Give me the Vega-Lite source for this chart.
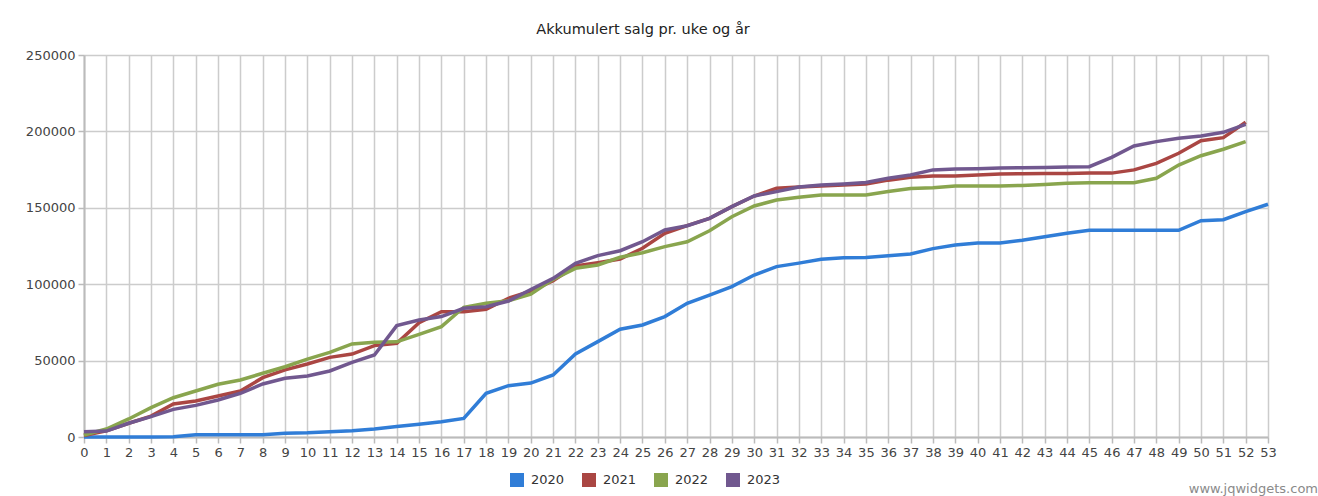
{
  "$schema": "https://vega.github.io/schema/vega-lite/v6.json",
  "width": 1184,
  "height": 382,
  "autosize": {"type": "none"},
  "padding": {"left": 84, "top": 55, "right": 50, "bottom": 59},
  "background": "white",
  "config": {
    "font": "DejaVu Sans",
    "view": {"stroke": null},
    "axis": {
      "labelFont": "DejaVu Sans",
      "labelFontSize": 13,
      "labelColor": "#444444",
      "gridColor": "#cccccc",
      "gridWidth": 1.5,
      "domainColor": "#bbbbbb",
      "domainWidth": 2,
      "tickColor": "#bbbbbb",
      "tickWidth": 1.5,
      "tickSize": 6,
      "title": null
    }
  },
  "title": {
    "text": "Akkumulert salg pr. uke og år",
    "font": "DejaVu Sans",
    "fontSize": 14.5,
    "fontWeight": "normal",
    "color": "#222222",
    "offset": 12,
    "dx": -33
  },
  "layer": [
    {
      "data": {"values": [
        {"uke":0,"år":"2020","salg":0},{"uke":1,"år":"2020","salg":0},{"uke":2,"år":"2020","salg":0},{"uke":3,"år":"2020","salg":0},{"uke":4,"år":"2020","salg":200},{"uke":5,"år":"2020","salg":1500},{"uke":6,"år":"2020","salg":1500},{"uke":7,"år":"2020","salg":1500},{"uke":8,"år":"2020","salg":1500},{"uke":9,"år":"2020","salg":2500},{"uke":10,"år":"2020","salg":2800},{"uke":11,"år":"2020","salg":3500},{"uke":12,"år":"2020","salg":4100},{"uke":13,"år":"2020","salg":5200},{"uke":14,"år":"2020","salg":6800},{"uke":15,"år":"2020","salg":8300},{"uke":16,"år":"2020","salg":10000},{"uke":17,"år":"2020","salg":12200},{"uke":18,"år":"2020","salg":28600},{"uke":19,"år":"2020","salg":33600},{"uke":20,"år":"2020","salg":35300},{"uke":21,"år":"2020","salg":40600},{"uke":22,"år":"2020","salg":54300},{"uke":23,"år":"2020","salg":62400},{"uke":24,"år":"2020","salg":70500},{"uke":25,"år":"2020","salg":73300},{"uke":26,"år":"2020","salg":78800},{"uke":27,"år":"2020","salg":87500},{"uke":28,"år":"2020","salg":92900},{"uke":29,"år":"2020","salg":98400},{"uke":30,"år":"2020","salg":106000},{"uke":31,"år":"2020","salg":111500},{"uke":32,"år":"2020","salg":113800},{"uke":33,"år":"2020","salg":116300},{"uke":34,"år":"2020","salg":117300},{"uke":35,"år":"2020","salg":117400},{"uke":36,"år":"2020","salg":118600},{"uke":37,"år":"2020","salg":119800},{"uke":38,"år":"2020","salg":123300},{"uke":39,"år":"2020","salg":125600},{"uke":40,"år":"2020","salg":127000},{"uke":41,"år":"2020","salg":127000},{"uke":42,"år":"2020","salg":128800},{"uke":43,"år":"2020","salg":131000},{"uke":44,"år":"2020","salg":133300},{"uke":45,"år":"2020","salg":135300},{"uke":46,"år":"2020","salg":135300},{"uke":47,"år":"2020","salg":135300},{"uke":48,"år":"2020","salg":135300},{"uke":49,"år":"2020","salg":135300},{"uke":50,"år":"2020","salg":141600},{"uke":51,"år":"2020","salg":142200},{"uke":52,"år":"2020","salg":147500},{"uke":53,"år":"2020","salg":152300},
        {"uke":0,"år":"2021","salg":1000},{"uke":1,"år":"2021","salg":4000},{"uke":2,"år":"2021","salg":9000},{"uke":3,"år":"2021","salg":13700},{"uke":4,"år":"2021","salg":21600},{"uke":5,"år":"2021","salg":23600},{"uke":6,"år":"2021","salg":26800},{"uke":7,"år":"2021","salg":30100},{"uke":8,"år":"2021","salg":38800},{"uke":9,"år":"2021","salg":43900},{"uke":10,"år":"2021","salg":47800},{"uke":11,"år":"2021","salg":52100},{"uke":12,"år":"2021","salg":54300},{"uke":13,"år":"2021","salg":59800},{"uke":14,"år":"2021","salg":61300},{"uke":15,"år":"2021","salg":74800},{"uke":16,"år":"2021","salg":82000},{"uke":17,"år":"2021","salg":82000},{"uke":18,"år":"2021","salg":83600},{"uke":19,"år":"2021","salg":90800},{"uke":20,"år":"2021","salg":95500},{"uke":21,"år":"2021","salg":102300},{"uke":22,"år":"2021","salg":111900},{"uke":23,"år":"2021","salg":114100},{"uke":24,"år":"2021","salg":116500},{"uke":25,"år":"2021","salg":123500},{"uke":26,"år":"2021","salg":133300},{"uke":27,"år":"2021","salg":138300},{"uke":28,"år":"2021","salg":143100},{"uke":29,"år":"2021","salg":150800},{"uke":30,"år":"2021","salg":157700},{"uke":31,"år":"2021","salg":162800},{"uke":32,"år":"2021","salg":163600},{"uke":33,"år":"2021","salg":164300},{"uke":34,"år":"2021","salg":165000},{"uke":35,"år":"2021","salg":165600},{"uke":36,"år":"2021","salg":168100},{"uke":37,"år":"2021","salg":170000},{"uke":38,"år":"2021","salg":170800},{"uke":39,"år":"2021","salg":170800},{"uke":40,"år":"2021","salg":171500},{"uke":41,"år":"2021","salg":172100},{"uke":42,"år":"2021","salg":172300},{"uke":43,"år":"2021","salg":172400},{"uke":44,"år":"2021","salg":172500},{"uke":45,"år":"2021","salg":172700},{"uke":46,"år":"2021","salg":172700},{"uke":47,"år":"2021","salg":174800},{"uke":48,"år":"2021","salg":179100},{"uke":49,"år":"2021","salg":185700},{"uke":50,"år":"2021","salg":193900},{"uke":51,"år":"2021","salg":195900},{"uke":52,"år":"2021","salg":206000},
        {"uke":0,"år":"2022","salg":1300},{"uke":1,"år":"2022","salg":5200},{"uke":2,"år":"2022","salg":11800},{"uke":3,"år":"2022","salg":19200},{"uke":4,"år":"2022","salg":25700},{"uke":5,"år":"2022","salg":30100},{"uke":6,"år":"2022","salg":34500},{"uke":7,"år":"2022","salg":37300},{"uke":8,"år":"2022","salg":41700},{"uke":9,"år":"2022","salg":46000},{"uke":10,"år":"2022","salg":51000},{"uke":11,"år":"2022","salg":55400},{"uke":12,"år":"2022","salg":60900},{"uke":13,"år":"2022","salg":62000},{"uke":14,"år":"2022","salg":62300},{"uke":15,"år":"2022","salg":67200},{"uke":16,"år":"2022","salg":72200},{"uke":17,"år":"2022","salg":84900},{"uke":18,"år":"2022","salg":87500},{"uke":19,"år":"2022","salg":89200},{"uke":20,"år":"2022","salg":93500},{"uke":21,"år":"2022","salg":103200},{"uke":22,"år":"2022","salg":110400},{"uke":23,"år":"2022","salg":112600},{"uke":24,"år":"2022","salg":117600},{"uke":25,"år":"2022","salg":120600},{"uke":26,"år":"2022","salg":124600},{"uke":27,"år":"2022","salg":127800},{"uke":28,"år":"2022","salg":135000},{"uke":29,"år":"2022","salg":144200},{"uke":30,"år":"2022","salg":151200},{"uke":31,"år":"2022","salg":155100},{"uke":32,"år":"2022","salg":156900},{"uke":33,"år":"2022","salg":158400},{"uke":34,"år":"2022","salg":158400},{"uke":35,"år":"2022","salg":158400},{"uke":36,"år":"2022","salg":160600},{"uke":37,"år":"2022","salg":162700},{"uke":38,"år":"2022","salg":163200},{"uke":39,"år":"2022","salg":164300},{"uke":40,"år":"2022","salg":164300},{"uke":41,"år":"2022","salg":164300},{"uke":42,"år":"2022","salg":164600},{"uke":43,"år":"2022","salg":165300},{"uke":44,"år":"2022","salg":166000},{"uke":45,"år":"2022","salg":166400},{"uke":46,"år":"2022","salg":166400},{"uke":47,"år":"2022","salg":166400},{"uke":48,"år":"2022","salg":169300},{"uke":49,"år":"2022","salg":178000},{"uke":50,"år":"2022","salg":184100},{"uke":51,"år":"2022","salg":188300},{"uke":52,"år":"2022","salg":193300},
        {"uke":0,"år":"2023","salg":3500},{"uke":1,"år":"2023","salg":3900},{"uke":2,"år":"2023","salg":9000},{"uke":3,"år":"2023","salg":13300},{"uke":4,"år":"2023","salg":18100},{"uke":5,"år":"2023","salg":20700},{"uke":6,"år":"2023","salg":24200},{"uke":7,"år":"2023","salg":28600},{"uke":8,"år":"2023","salg":34700},{"uke":9,"år":"2023","salg":38400},{"uke":10,"år":"2023","salg":39900},{"uke":11,"år":"2023","salg":43200},{"uke":12,"år":"2023","salg":48900},{"uke":13,"år":"2023","salg":53700},{"uke":14,"år":"2023","salg":72900},{"uke":15,"år":"2023","salg":76600},{"uke":16,"år":"2023","salg":78800},{"uke":17,"år":"2023","salg":84200},{"uke":18,"år":"2023","salg":85300},{"uke":19,"år":"2023","salg":89000},{"uke":20,"år":"2023","salg":96500},{"uke":21,"år":"2023","salg":103800},{"uke":22,"år":"2023","salg":113700},{"uke":23,"år":"2023","salg":118700},{"uke":24,"år":"2023","salg":121900},{"uke":25,"år":"2023","salg":127800},{"uke":26,"år":"2023","salg":135500},{"uke":27,"år":"2023","salg":138300},{"uke":28,"år":"2023","salg":143100},{"uke":29,"år":"2023","salg":150800},{"uke":30,"år":"2023","salg":157700},{"uke":31,"år":"2023","salg":160600},{"uke":32,"år":"2023","salg":163600},{"uke":33,"år":"2023","salg":164900},{"uke":34,"år":"2023","salg":165600},{"uke":35,"år":"2023","salg":166500},{"uke":36,"år":"2023","salg":169300},{"uke":37,"år":"2023","salg":171500},{"uke":38,"år":"2023","salg":174800},{"uke":39,"år":"2023","salg":175400},{"uke":40,"år":"2023","salg":175600},{"uke":41,"år":"2023","salg":176000},{"uke":42,"år":"2023","salg":176200},{"uke":43,"år":"2023","salg":176400},{"uke":44,"år":"2023","salg":176700},{"uke":45,"år":"2023","salg":176900},{"uke":46,"år":"2023","salg":183000},{"uke":47,"år":"2023","salg":190500},{"uke":48,"år":"2023","salg":193300},{"uke":49,"år":"2023","salg":195500},{"uke":50,"år":"2023","salg":197000},{"uke":51,"år":"2023","salg":199400},{"uke":52,"år":"2023","salg":204600}
      ]},
      "mark": {"type": "line", "strokeWidth": 3.5, "interpolate": "linear"},
      "encoding": {
        "x": {
          "field": "uke", "type": "quantitative",
          "scale": {"domain": [0, 53], "nice": false, "zero": false},
          "axis": {"tickCount": 53, "tickMinStep": 1, "format": "d", "labelPadding": 3, "labelFlush": false, "labelOverlap": false, "labelBound": false}
        },
        "y": {
          "field": "salg", "type": "quantitative",
          "scale": {"domain": [0, 250000], "nice": false},
          "axis": {"values": [0, 50000, 100000, 150000, 200000, 250000], "format": "d", "labelPadding": 3, "labelFlush": false}
        },
        "color": {
          "field": "år", "type": "nominal",
          "scale": {"domain": ["2020", "2021", "2022", "2023"], "range": ["#307DD7", "#AA4643", "#89A54E", "#71588F"]},
          "legend": {
            "title": null,
            "orient": "none",
            "direction": "horizontal",
            "legendX": 426,
            "legendY": 418,
            "symbolType": "square",
            "symbolSize": 196,
            "symbolStrokeWidth": 0,
            "labelFont": "DejaVu Sans",
            "labelFontSize": 13,
            "labelColor": "#333333",
            "labelOffset": 7,
            "columnPadding": 17,
            "encode": {"symbols": {"update": {"fill": {"scale": "color", "field": "value"}, "opacity": {"value": 1}}}}
          }
        }
      }
    },
    {
      "data": {"values": [{"t": "www.jqwidgets.com"}]},
      "mark": {"type": "text", "align": "right", "baseline": "middle", "dx": 50, "dy": 52, "fontSize": 13, "color": "#8a8a8a", "font": "DejaVu Sans"},
      "encoding": {
        "x": {"datum": 53},
        "y": {"datum": 0},
        "text": {"field": "t"}
      }
    }
  ]
}
